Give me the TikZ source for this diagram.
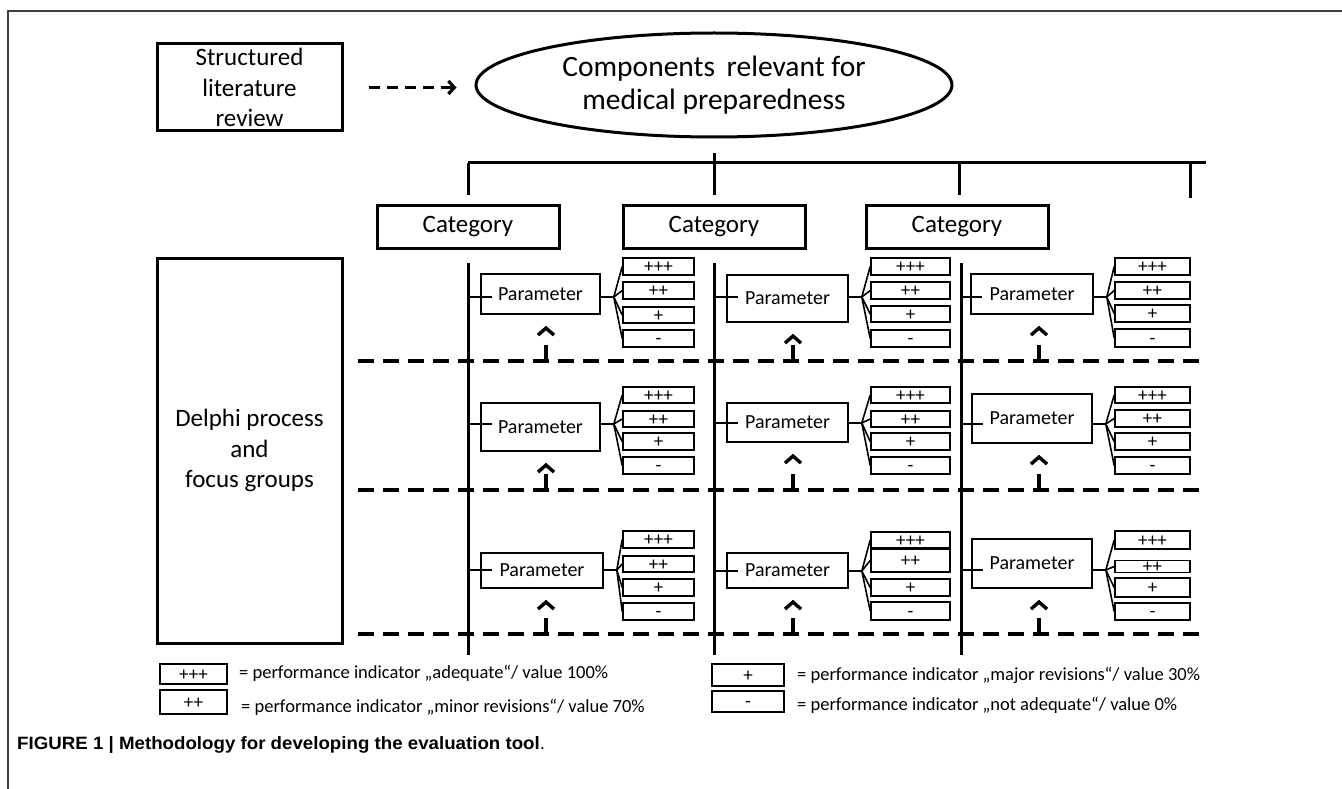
\documentclass[tikz,border=0pt]{standalone}
\usepackage{fontspec}
\usepackage{graphicx}
\setmainfont{Carlito}
\newfontfamily\capfont{Liberation Sans}
\usetikzlibrary{shapes.geometric,arrows.meta,calc}
\newcommand{\rbox}[7]{\node[#1, minimum width={#4-#3}, minimum height={#6-#5}] (#2) at ({(#3+#4)/2},{(#5+#6)/2}) {#7};}
\begin{document}
\begin{tikzpicture}[x=1pt,y=-1pt,
  thickline/.style={line width=3pt},
  bigbox/.style={draw, line width=3pt, inner sep=0pt, align=center},
  parbox/.style={draw, line width=1.6pt, inner sep=0pt, font=\fontsize{20}{24}\selectfont},
  indbox/.style={draw, line width=1.6pt, inner sep=0pt, text height=12pt, text depth=0pt, font=\fontsize{19}{19}\selectfont},
  legbox/.style={draw, line width=2pt, inner sep=0pt, text height=12pt, text depth=0pt, font=\fontsize{19}{19}\selectfont},
  pline/.style={line width=1.6pt},
  dline/.style={line width=3.6pt, dash pattern=on 16pt off 9pt},
  uparrow/.style={line width=3.4pt, dash pattern=on 16pt off 60pt, -{Straight Barb[length=7pt,width=16pt]}},
  legtext/.style={anchor=west, inner sep=0pt, font=\fontsize{18.5}{20}\selectfont},
]
\useasboundingbox (0,0) rectangle (1342,789);
% frame
\draw[line width=1.2pt, black!75] (8,789) -- (8,11) -- (1342,11);

% top
\node[bigbox, minimum width=185, minimum height=87, font=\fontsize{25}{30.5}\selectfont] (slr) at (249.5,87.5) {Structured\\literature\\review};
\node[draw, ellipse, line width=3pt, minimum width=476, minimum height=104, inner sep=0pt, align=center, font=\fontsize{29.5}{33}\selectfont] (comp) at (714,85) {Components\, relevant for\\medical preparedness};
\draw[line width=3.2pt, dash pattern=on 11pt off 7pt, -{Straight Barb[length=6pt,width=13pt]}, shorten <=25pt, shorten >=18pt] (slr.east) -- (slr.east -| comp.west);

% categories
\rbox{bigbox, font=\fontsize{25}{30}\selectfont}{cat1}{377}{559}{205}{248}{Category}
\rbox{bigbox, font=\fontsize{25}{30}\selectfont}{cat2}{623}{805}{205}{248}{Category}
\rbox{bigbox, font=\fontsize{25}{30}\selectfont}{cat3}{866}{1048}{205}{248}{Category}

% bus
\coordinate (busL) at (468,163);
\coordinate (busR) at (1206,163);
\coordinate (b4t) at (1190,163);
\coordinate (b4b) at (1190,198);
\draw[thickline] (busL) -- (busR);
\draw[thickline, shorten >=8pt] (busL) -- (cat1.north);
\draw[thickline, shorten <=15pt, shorten >=8pt] (comp.south) -- (cat2.north);
\draw[thickline, shorten >=8pt] ($(cat3.north |- busL)+(2,0)$) -- ($(cat3.north)+(2,0)$);
\draw[thickline] (b4t) -- (b4b);

% Delphi
\rbox{bigbox, font=\fontsize{25}{30.5}\selectfont, align=center}{delphi}{157}{342}{258}{643}{Delphi process\\and\\focus groups}

% column verticals
\foreach \n/\x in {1/468,2/714,3/961}{
  \coordinate (vt\n) at (\x,263);
  \coordinate (vb\n) at (\x,655);
  \draw[thickline] (vt\n) -- (vb\n);
}

% dashed separators
\foreach \n/\y in {1/361,2/490,3/634}{
  \coordinate (dl\n) at (358,\y);
  \coordinate (dr\n) at (1207,\y);
  \draw[dline] (dl\n) -- (dr\n);
}

% cells
\foreach \id/\v/\pa/\pb/\pc/\pd/\cy/\ia/\ib/\ax/\dy/\ya/\yb/\yc/\yd/\ye/\yf/\yg/\yh in {
 11/468/481/600/274/314/297/623/694/546/361/258/275/282/299/307/323/330/347,
 12/468/481/600/403/451/424/623/694/546/490/387/403/411/427/433/450/457/474,
 13/468/481/603/553/588/570/623/694/546/634/531/548/556/572/579/596/603/620,
 21/714/727/848/275/322/297/871/950/793/361/258/275/282/299/306/322/330/347,
 22/714/727/848/403/442/423/871/950/793/490/387/403/411/427/433/450/457/474,
 23/714/727/848/553/588/571/871/950/793/634/532/548/549/572/579/596/602/620,
 31/961/971/1093/274/314/297/1115/1190/1039/361/258/275/282/299/305/322/329/347,
 32/961/972/1092/394/443/424/1115/1190/1039/490/387/403/410/427/433/450/457/474,
 33/961/972/1092/539/588/570/1115/1190/1039/634/531/549/561/572/578/597/603/620}
{
 \rbox{parbox}{P\id}{\pa}{\pb}{\pc}{\pd}{Parameter}
 \rbox{indbox}{Ia\id}{\ia}{\ib}{\ya}{\yb}{+++}
 \rbox{indbox}{Ib\id}{\ia}{\ib}{\yc}{\yd}{++}
 \rbox{indbox}{Ic\id}{\ia}{\ib}{\ye}{\yf}{+}
 \rbox{indbox}{Id\id}{\ia}{\ib}{\yg}{\yh}{-}
 \coordinate (c\id) at (\v,\cy);
 \draw[pline] (c\id) -- ($(c\id -| P\id.west)+(12,0)$);
 \coordinate (f\id) at ($(P\id.east |- c\id)+(13,0)$);
 \draw[pline] (P\id.east |- c\id) -- (f\id);
 \foreach \k in {a,b,c,d}{\draw[pline] (f\id) -- (I\k\id.west);}
 \coordinate (a\id) at (\ax,\dy);
 \draw[uparrow, shorten >=11pt] (a\id) -- (a\id |- P\id.south);
}

% legend
\rbox{legbox}{L1}{160}{227}{664}{684}{+++}
\rbox{legbox}{L2}{160}{227}{690}{714}{++}
\rbox{legbox}{L3}{712}{784}{664}{686}{+}
\rbox{legbox}{L4}{712}{784}{691}{712}{-}
\node[legtext] (T1) at (239,673) {= performance indicator „adequate“/ value 100\%};
\node[legtext] (T2) at (241,707) {= performance indicator „minor revisions“/ value 70\%};
\node[legtext] (T3) at (797,675) {= performance indicator „major revisions“/ value 30\%};
\node[legtext] (T4) at (797,705) {= performance indicator „not adequate“/ value 0\%};

% caption
\node[anchor=west, inner sep=0pt, font=\capfont\fontsize{17}{20}\selectfont] (cap) at (17,745) {\scalebox{1.1}[1.05]{\textbf{FIGURE 1 | Methodology for developing the evaluation tool}.}};
\end{tikzpicture}
\end{document}
